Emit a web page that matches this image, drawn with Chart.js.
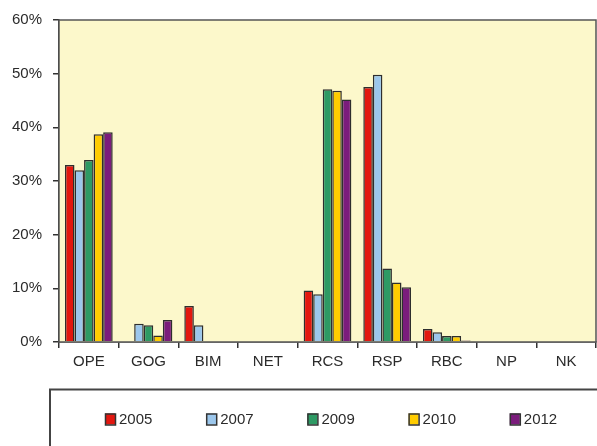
<!DOCTYPE html>
<html>
<head>
<meta charset="utf-8">
<script src="https://cdn.jsdelivr.net/npm/chart.js@4/dist/chart.umd.min.js"></script>
<style>
  html, body { margin: 0; padding: 0; background: #fff; }
  #wrap { width: 597px; height: 446px; }
</style>
</head>
<body>
<div id="wrap"><canvas id="myChart"></canvas></div>
<script>
const categories = ['OPE', 'GOG', 'BIM', 'NET', 'RCS', 'RSP', 'RBC', 'NP', 'NK'];
const years = ['2005', '2007', '2009', '2010', '2012'];
const colors = ['#e3170f', '#9cc7ec', '#2e9a64', '#ffcc00', '#7b1c7c'];

// shares in %, one array per year
const values2005 = [33.0, 0, 6.7, 0, 9.6, 47.5, 2.4, 0, 0];
const values2007 = [32.0, 3.4, 3.1, 0, 8.9, 49.8, 1.8, 0, 0];
const values2009 = [33.9, 3.1, 0, 0, 47.1, 13.7, 1.1, 0, 0];
const values2010 = [38.7, 1.2, 0, 0, 46.8, 11.1, 1.1, 0, 0];
const values2012 = [39.1, 4.1, 0, 0, 45.2, 10.2, 0.3, 0, 0];

const allValues = [values2005, values2007, values2009, values2010, values2012];

const fontFamily = '"Liberation Sans", Arial, sans-serif';
const textColor = '#2b2b2b';

// yellow plot background + frame around the plot
const plotFrame = {
  id: 'plotFrame',
  beforeDatasetsDraw(chart) {
    const { ctx, chartArea: a } = chart;
    ctx.save();
    ctx.fillStyle = '#fcf8cb';
    ctx.fillRect(a.left, a.top, a.right - a.left, a.bottom - a.top);
    ctx.restore();
  },
  afterDraw(chart) {
    const { ctx, chartArea: a } = chart;
    ctx.save();
    ctx.strokeStyle = '#555';
    ctx.lineWidth = 1.5;
    ctx.strokeRect(a.left, a.top, a.right - a.left, a.bottom - a.top);
    ctx.restore();
  }
};

// legend drawn in a box under the chart, like the original
const boxLegend = {
  id: 'boxLegend',
  afterDraw(chart) {
    const ctx = chart.ctx;
    ctx.save();
    ctx.strokeStyle = '#444';
    ctx.lineWidth = 2;
    ctx.strokeRect(50, 389.5, 600, 80);
    ctx.font = '15px ' + fontFamily;
    ctx.textBaseline = 'middle';
    chart.data.datasets.forEach((ds, i) => {
      const x = 105 + i * 101.2;
      const y = 419;
      ctx.fillStyle = ds.backgroundColor;
      ctx.fillRect(x, y - 5.5, 10, 11);
      ctx.strokeStyle = '#333';
      ctx.lineWidth = 1.5;
      ctx.strokeRect(x + 0.5, y - 5, 10, 11);
      ctx.fillStyle = textColor;
      ctx.fillText(ds.label, x + 14, y + 1);
    });
    ctx.restore();
  }
};

const ctx = document.getElementById('myChart');
new Chart(ctx, {
  type: 'bar',
  data: {
    labels: categories,
    datasets: years.map((year, i) => ({
      label: year,
      data: allValues[i],
      backgroundColor: colors[i],
      borderColor: '#2e2e2e',
      borderWidth: 1.5,
      categoryPercentage: 0.8,
      barPercentage: 1.0,
    })),
  },
  options: {
    responsive: true,
    maintainAspectRatio: false,
    animation: false,
    layout: { padding: { top: 17, right: 1, left: 0, bottom: 74 } },
    plugins: {
      legend: { display: false },
      tooltip: { enabled: false },
    },
    scales: {
      x: {
        grid: {
          display: true,
          offset: true,
          drawOnChartArea: false,
          tickLength: 6,
          color: '#333',
          lineWidth: 1.5,
        },
        border: { color: '#333', width: 1.5 },
        ticks: {
          color: textColor,
          font: { family: fontFamily, size: 15 },
          padding: 5,
          maxRotation: 0,
        },
        afterFit(scale) { scale.height = 30; },
      },
      y: {
        min: 0,
        max: 60,
        grid: {
          display: true,
          drawOnChartArea: false,
          tickLength: 6,
          color: '#333',
          lineWidth: 1.5,
        },
        border: { color: '#333', width: 1.5 },
        ticks: {
          stepSize: 10,
          color: textColor,
          padding: 11,
          font: { family: fontFamily, size: 15 },
          callback: (v) => v + '%',
        },
        afterFit(scale) { scale.width = 59; },
      },
    },
  },
  plugins: [plotFrame, boxLegend],
});
</script>
</body>
</html>
